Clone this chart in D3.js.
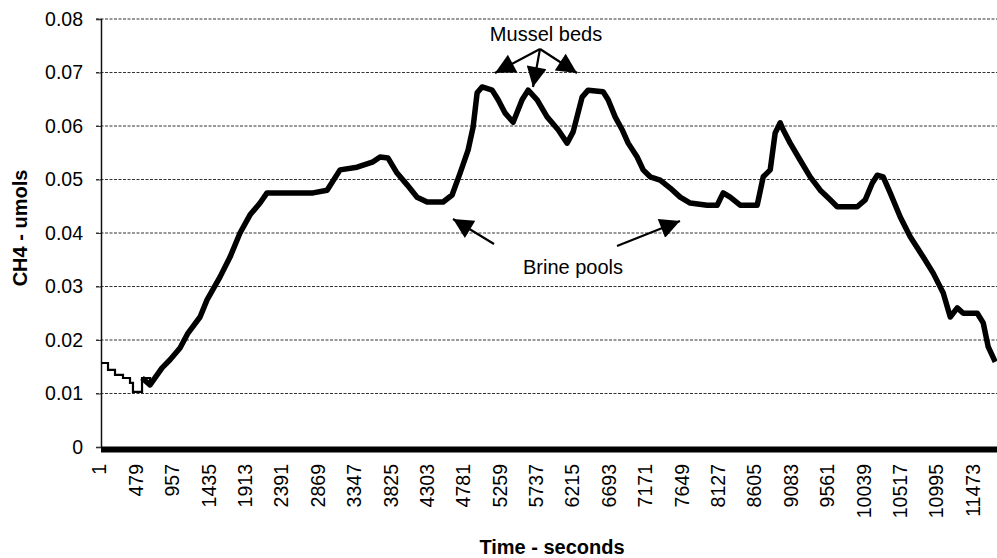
<!DOCTYPE html>
<html>
<head>
<meta charset="utf-8">
<script src="https://cdn.jsdelivr.net/npm/d3@7"></script>
<style>
  body { margin: 0; background: #fff; }
  text { font-family: "Liberation Sans", Arial, sans-serif; fill: #000; }
</style>
</head>
<body>
<div id="chart"></div>
<script>
// values
const timeSec = [1, 92, 184, 289, 381, 420, 539, 644, 802, 907, 1038, 1143, 1301, 1393, 1564, 1695, 1826, 1958, 2089, 2181,
  2352, 2786, 2970, 3140, 3364, 3574, 3666, 3771, 3889, 4021, 4152, 4284, 4494, 4612, 4717, 4822, 4888, 4941, 5006, 5138,
  5217, 5309, 5414, 5532, 5611, 5729, 5860, 6005, 6123, 6202, 6320, 6399, 6596, 6662, 6754, 6846, 6925, 7043, 7122, 7214,
  7345, 7477, 7608, 7740, 7963, 8094, 8173, 8265, 8396, 8620, 8699, 8791, 8856, 8922, 8961, 9053, 9185, 9316, 9448, 9579,
  9671, 9934, 10039, 10131, 10197, 10275, 10367, 10499, 10630, 10801, 10932, 11064, 11156, 11248, 11327, 11511, 11589, 11655, 11747];
const ch4 = [0.0157, 0.0144, 0.0135, 0.0129, 0.0120, 0.0103, 0.0129, 0.0116, 0.0148, 0.0163, 0.0185, 0.0213, 0.0243, 0.0275, 0.0318, 0.0355, 0.0400, 0.0434, 0.0456, 0.0475,
  0.0475, 0.0475, 0.0480, 0.0518, 0.0523, 0.0533, 0.0542, 0.0540, 0.0512, 0.0490, 0.0467, 0.0458, 0.0458, 0.0471, 0.0512, 0.0555, 0.0598, 0.0662, 0.0673, 0.0667,
  0.0649, 0.0624, 0.0607, 0.0649, 0.0667, 0.0649, 0.0617, 0.0593, 0.0568, 0.0589, 0.0654, 0.0667, 0.0664, 0.0649, 0.0617, 0.0593, 0.0568, 0.0542, 0.0518, 0.0505,
  0.0499, 0.0484, 0.0467, 0.0456, 0.0452, 0.0452, 0.0475, 0.0467, 0.0452, 0.0452, 0.0505, 0.0518, 0.0587, 0.0606, 0.0593, 0.0568, 0.0536, 0.0505, 0.0480, 0.0462,
  0.0449, 0.0449, 0.0462, 0.0493, 0.0508, 0.0505, 0.0475, 0.0430, 0.0393, 0.0355, 0.0325, 0.0288, 0.0243, 0.0260, 0.0250, 0.0250, 0.0232, 0.0187, 0.0159];
const xTicks = d3.range(1, 11474, 478);
const yTicks = [0, 0.01, 0.02, 0.03, 0.04, 0.05, 0.06, 0.07, 0.08];

const W = 997, H = 558;
const svg = d3.select('#chart').append('svg').attr('width', W).attr('height', H);

const x = d3.scaleLinear().domain([0, 11770]).range([101, 997]);
const y = d3.scaleLinear().domain([0, 0.08]).range([447, 19]);

// gridlines
svg.append('g').selectAll('line').data(yTicks.slice(1)).enter().append('line')
  .attr('x1', 96).attr('x2', W)
  .attr('y1', d => y(d)).attr('y2', d => y(d))
  .attr('stroke', '#333').attr('stroke-width', 1).attr('stroke-dasharray', '3,1.5');

// y axis
const yAxis = svg.append('g').attr('transform', 'translate(101,0)')
  .call(d3.axisLeft(y).tickValues(yTicks).tickSize(5).tickPadding(13)
    .tickFormat(d => d === 0 ? '0' : d3.format('.2f')(d)));
yAxis.select('.domain').attr('stroke', '#111').attr('stroke-width', 1.5);
yAxis.selectAll('.tick line').attr('stroke', '#333');
yAxis.selectAll('text').style('font-size', '19.5px').attr('font-family', null);

// x axis
const xAxis = svg.append('g').attr('transform', 'translate(0,449)')
  .call(d3.axisBottom(x).tickValues(xTicks).tickSize(0).tickFormat(d3.format('d')));
xAxis.select('.domain').remove();
xAxis.selectAll('text')
  .style('font-size', '19.5px').attr('font-family', null)
  .attr('text-anchor', 'end')
  .attr('transform', 'rotate(-90)')
  .attr('x', -15).attr('y', -2).attr('dy', '0.35em');
svg.append('line').attr('x1', 101).attr('x2', W).attr('y1', 449.5).attr('y2', 449.5)
  .attr('stroke', '#000').attr('stroke-width', 6);

// data line: thin stepped start, thick after
const pts = timeSec.map((t, i) => [t, ch4[i]]);
svg.append('path')
  .attr('d', d3.line().x(d => x(d[0])).y(d => y(d[1])).curve(d3.curveStepAfter)(pts.slice(0, 8)))
  .attr('fill', 'none').attr('stroke', '#000').attr('stroke-width', 2.2);
svg.append('path')
  .attr('d', d3.line().x(d => x(d[0])).y(d => y(d[1]))(pts.slice(6)))
  .attr('fill', 'none').attr('stroke', '#000').attr('stroke-width', 5.5).attr('stroke-linejoin', 'round');

// annotations
const defs = svg.append('defs');
defs.append('marker').attr('id', 'head')
  .attr('viewBox', '0 0 10 10').attr('refX', 10).attr('refY', 5)
  .attr('markerUnits', 'userSpaceOnUse').attr('markerWidth', 22).attr('markerHeight', 20)
  .attr('orient', 'auto')
  .append('path').attr('d', 'M0,0L10,5L0,10Z').attr('fill', '#000');

const arrows = [
  [540, 49, 495, 73], [540, 49, 533, 87], [540, 49, 577, 73],
  [494, 244, 453, 219], [617, 246, 680, 221]
];
svg.append('g').selectAll('line').data(arrows).enter().append('line')
  .attr('x1', d => d[0]).attr('y1', d => d[1]).attr('x2', d => d[2]).attr('y2', d => d[3])
  .attr('stroke', '#000').attr('stroke-width', 2.2).attr('marker-end', 'url(#head)');

svg.append('text').attr('x', 546).attr('y', 41).attr('text-anchor', 'middle')
  .style('font-size', '20px').text('Mussel beds');
svg.append('text').attr('x', 573).attr('y', 274).attr('text-anchor', 'middle')
  .style('font-size', '20px').text('Brine pools');

// axis titles
svg.append('text').attr('x', 552).attr('y', 554).attr('text-anchor', 'middle')
  .style('font-size', '20px').style('font-weight', 'bold').text('Time - seconds');
svg.append('text').attr('transform', 'translate(27,228) rotate(-90)').attr('text-anchor', 'middle')
  .style('font-size', '20px').style('font-weight', 'bold').text('CH4 - umols');
</script>
</body>
</html>
